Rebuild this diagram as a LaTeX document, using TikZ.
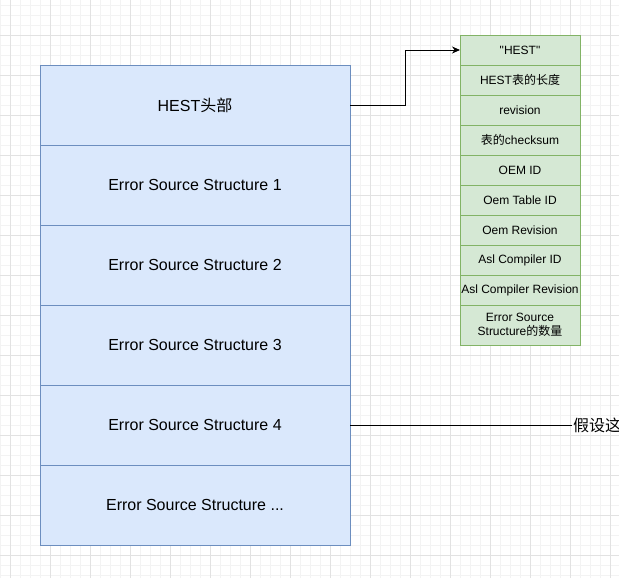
\documentclass[tikz,border=0pt]{standalone}
\usepackage{fontspec}
\setmainfont{Liberation Sans}[Ligatures=TeXOff]
\newfontfamily\cjk{Noto Sans CJK SC}
\usetikzlibrary{arrows.meta,positioning}

\definecolor{hestblue}{HTML}{DAE8FC}
\definecolor{hestbluedraw}{HTML}{6C8EBF}
\definecolor{fieldgreen}{HTML}{D5E8D4}
\definecolor{fieldgreendraw}{HTML}{82B366}
\definecolor{gridmajor}{HTML}{E2E2E2}
\definecolor{gridminor}{HTML}{F3F3F3}

\tikzset{
  hestrow/.style={draw=hestbluedraw, fill=hestblue, line width=0.8pt, minimum width=310pt,
    minimum height=80pt, inner sep=0pt, outer sep=0pt, font=\fontsize{16}{19}\selectfont},
  fieldrow/.style={draw=fieldgreendraw, fill=fieldgreen, line width=0.8pt, minimum width=120pt,
    minimum height=30pt, inner sep=0pt, outer sep=0pt, align=center, font=\fontsize{12}{14}\selectfont},
  link/.style={black, line width=0.9pt},
}

\begin{document}
\begin{tikzpicture}[x=1pt,y=-1pt]
\useasboundingbox (0,0) rectangle (619,578);
\fill[white] (0,0) rectangle (619,578);
% grid
\foreach \gx in {0,10,...,610} \draw[gridminor,line width=0.6pt] (\gx,0) -- (\gx,578);
\foreach \gy in {5,15,...,575} \draw[gridminor,line width=0.6pt] (0,\gy) -- (619,\gy);
\foreach \gx in {10,50,...,610} \draw[gridmajor,line width=0.8pt] (\gx,0) -- (\gx,578);
\foreach \gy in {35,75,...,575} \draw[gridmajor,line width=0.8pt] (0,\gy) -- (619,\gy);

% HEST table
\foreach \t [count=\i] in {{HEST{\cjk 头部}},{Error Source Structure 1},{Error Source Structure 2},
    {Error Source Structure 3},{Error Source Structure 4},{Error Source Structure .{}.{}.}}
  \node[hestrow] (s\i) at (195,25+80*\i) {\t};

% header fields
\foreach \t [count=\i] in {{"HEST"},{HEST{\cjk 表的长度}},revision,{{\cjk 表的}checksum},OEM ID,
    Oem Table ID,Oem Revision,Asl Compiler ID,Asl Compiler Revision}
  \node[fieldrow] (f\i) at (520,20+30*\i) {\t};
\node[fieldrow, minimum height=40pt] (f10) at (520,325) {Error Source\\Structure{\cjk 的数量}};

% connectors
\draw[link,-{Stealth[length=8pt,width=7pt]}] (s1.east) -- ++(55,0) |- (f1.west);
\node[anchor=west, inner sep=1pt, font=\fontsize{16}{18}\selectfont\cjk] (note) at (572,425) {假设这};
\draw[link] (s5.east) -- (note.west);
\end{tikzpicture}
\end{document}
